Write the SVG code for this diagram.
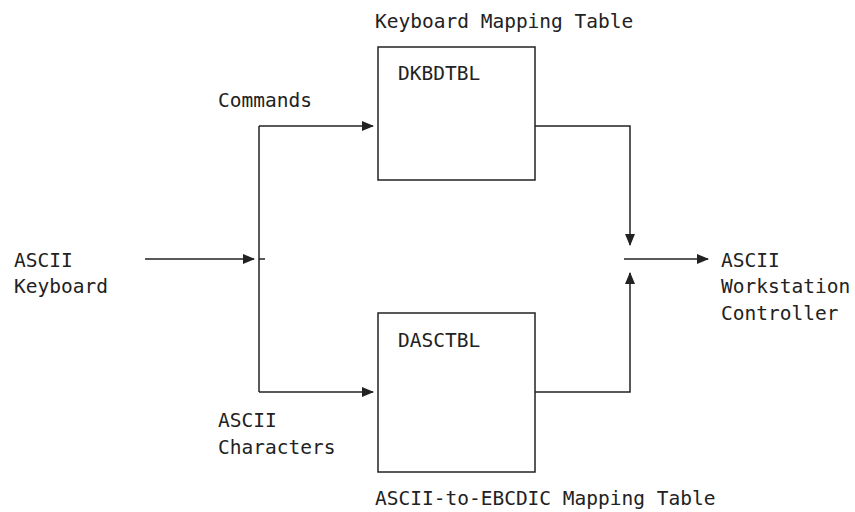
<svg xmlns="http://www.w3.org/2000/svg" width="855" height="512" viewBox="0 0 855 512">
<style>
text{font-family:"DejaVu Sans Mono","Liberation Mono",monospace;font-size:19.5px;fill:#222}
.ln{fill:none;stroke:#222;stroke-width:1.5}
.bx{fill:#fff;stroke:#222;stroke-width:1.5}
</style>
<defs>
<marker id="ah" markerWidth="12" markerHeight="10" refX="11" refY="5" orient="auto" markerUnits="userSpaceOnUse">
<path d="M0,0 L12,5 L0,10 Z" fill="#222"/>
</marker>
</defs>
<g id="kbd"><text x="14" y="267">ASCII</text><text x="14" y="293">Keyboard</text></g>
<g id="dkbdtbl">
<text x="375" y="28">Keyboard Mapping Table</text>
<rect class="bx" x="378" y="47" width="157" height="133"/>
<text x="398" y="80">DKBDTBL</text>
</g>
<g id="dasctbl">
<rect class="bx" x="378" y="313" width="157" height="159"/>
<text x="398" y="347">DASCTBL</text>
<text x="375" y="505">ASCII-to-EBCDIC Mapping Table</text>
</g>
<g id="wsc"><text x="721" y="267">ASCII</text><text x="721" y="293">Workstation</text><text x="721" y="320">Controller</text></g>
<g id="lbl-cmd"><text x="218" y="107">Commands</text></g>
<g id="lbl-chr"><text x="218" y="427">ASCII</text><text x="218" y="454">Characters</text></g>
<g id="connectors">
<path class="ln" d="M145,259 H254" marker-end="url(#ah)"/>
<path class="ln" d="M259,259 H265"/>
<path class="ln" d="M259,126 V392"/>
<path class="ln" d="M259,126 H373" marker-end="url(#ah)"/>
<path class="ln" d="M259,392 H373" marker-end="url(#ah)"/>
<path class="ln" d="M535,126 H630 V245" marker-end="url(#ah)"/>
<path class="ln" d="M535,392 H630 V273" marker-end="url(#ah)"/>
<path class="ln" d="M624,259 H708" marker-end="url(#ah)"/>
</g>
</svg>
